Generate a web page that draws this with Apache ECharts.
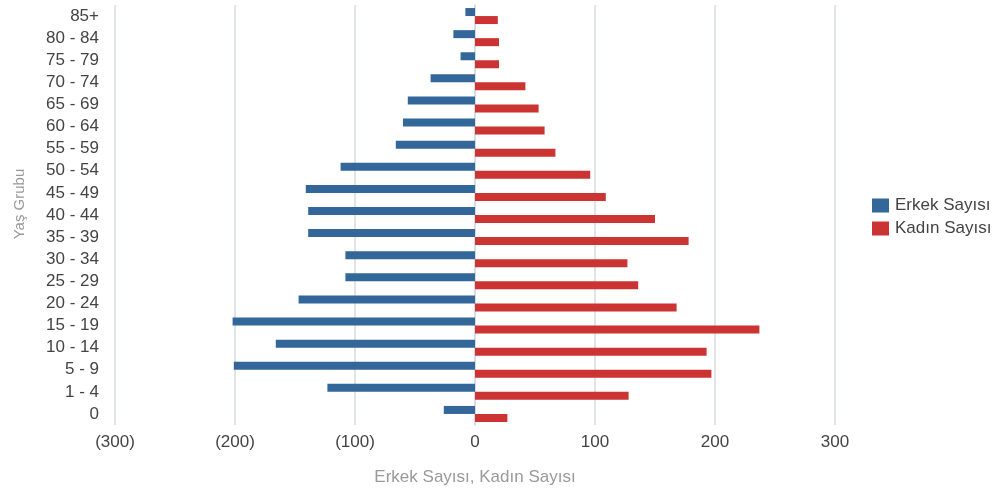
<!DOCTYPE html>
<html>
<head>
<meta charset="utf-8">
<script src="https://cdn.jsdelivr.net/npm/echarts@6/dist/echarts.min.js"></script>
<style>
  html, body { margin: 0; padding: 0; background: #fff; }
  #chart { width: 1000px; height: 493px; }
</style>
</head>
<body>
<div id="chart"></div>
<script>
// Age groups, bottom to top
const ageGroups = ['0', '1 - 4', '5 - 9', '10 - 14', '15 - 19', '20 - 24', '25 - 29', '30 - 34',
  '35 - 39', '40 - 44', '45 - 49', '50 - 54', '55 - 59', '60 - 64', '65 - 69', '70 - 74',
  '75 - 79', '80 - 84', '85+'];

// Counts per age group (same order as ageGroups)
const erkekSayisi = [26, 123, 201, 166, 202, 147, 108, 108, 139, 139, 141, 112, 66, 60, 56, 37, 12, 18, 8];
const kadinSayisi = [27, 128, 197, 193, 237, 168, 136, 127, 178, 150, 109, 96, 67, 58, 53, 42, 20, 20, 19];

const xTicks = { min: -300, max: 300, step: 100 };

const FONT = '"Liberation Sans", Arial, sans-serif';
const GRID_COLOR = '#d6dbe2';

const chart = echarts.init(document.getElementById('chart'));

chart.setOption({
  animation: false,
  backgroundColor: '#ffffff',
  textStyle: { fontFamily: FONT },
  legend: {
    orient: 'vertical',
    left: 867,
    top: 192,
    itemWidth: 17,
    itemHeight: 14,
    itemGap: 6,
    icon: 'rect',
    textStyle: { fontSize: 17, color: '#444', fontFamily: FONT, padding: [0, 0, 0, 1] },
    data: ['Erkek Sayısı', 'Kadın Sayısı']
  },
  grid: { left: 115, right: 165, top: 5, bottom: 68, containLabel: false },
  xAxis: {
    type: 'value',
    min: xTicks.min,
    max: xTicks.max,
    interval: xTicks.step,
    name: 'Erkek Sayısı, Kadın Sayısı',
    nameLocation: 'middle',
    nameGap: 44,
    nameTextStyle: { fontSize: 17, color: '#9a9a9a', fontFamily: FONT },
    axisLine: { show: false },
    axisTick: { show: false },
    axisLabel: {
      fontSize: 17,
      color: '#444',
      margin: 9,
      fontFamily: FONT,
      formatter: v => (v < 0 ? '(' + (-v) + ')' : String(v))
    },
    splitLine: { show: true, lineStyle: { color: GRID_COLOR, width: 1.5 } }
  },
  yAxis: {
    type: 'category',
    data: ageGroups,
    name: 'Yaş Grubu',
    nameLocation: 'middle',
    nameRotate: 90,
    nameGap: 88,
    nameTextStyle: { fontSize: 15, color: '#9a9a9a', fontFamily: FONT, padding: [0, 0, 0, 22] },
    axisLine: { show: true, lineStyle: { color: GRID_COLOR, width: 1.5 } },
    axisTick: { show: false },
    axisLabel: { fontSize: 17, color: '#444', margin: 16, fontFamily: FONT }
  },
  series: [
    {
      name: 'Erkek Sayısı',
      type: 'bar',
      barWidth: 8,
      barGap: '0%',
      itemStyle: { color: '#336699' },
      data: erkekSayisi.map(v => -v)
    },
    {
      name: 'Kadın Sayısı',
      type: 'bar',
      barWidth: 8,
      barGap: '0%',
      itemStyle: { color: '#cc3333' },
      data: kadinSayisi
    }
  ]
});
</script>
</body>
</html>
